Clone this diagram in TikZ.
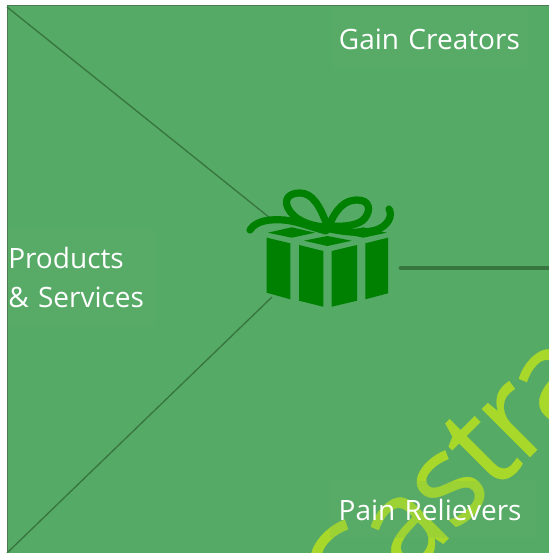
\documentclass[tikz,border=0pt]{standalone}
\usepackage{fontspec}
\setmainfont{Open Sans}
\newfontfamily\markfont[FakeBold=0.3,LetterSpace=-3]{Open Sans}
\usetikzlibrary{arrows,backgrounds}
\definecolor{canvasgreen}{HTML}{55AA66}
\definecolor{edgegreen}{HTML}{38763F}
\definecolor{giftgreen}{HTML}{008000}
\definecolor{markyellow}{HTML}{A8D82A}
\tikzset{
  spoke/.style={draw=edgegreen,line width=1pt},
  giftpart/.style={fill=giftgreen,draw=none},
  ribbon/.style={draw=giftgreen,line width=5.4pt,line cap=round},
  labelbox/.style={fill=canvasgreen!92!white,fill opacity=0.15,text opacity=1,text=white,inner sep=0pt,font=\fontsize{21}{29}\selectfont,align=left},
}
\begin{document}
\begin{tikzpicture}[x=0.75pt,y=0.75pt,yscale=-1,xscale=1]
\useasboundingbox (0,0) rectangle (549,553);

%Shape: Canvas
\fill[white] (0,0) rectangle (549,553);
\fill[canvasgreen] (7,5) rectangle (549,553);
\draw[edgegreen!70!gray,line width=0.75pt] (7,553) -- (7,5) -- (549,5);

%Watermark
\begin{scope}
\clip (7,5) rectangle (549,553);
\node (watermark) at (353,636) [anchor=south west,rotate=45,inner sep=0pt,text=markyellow,font=\markfont\fontsize{95}{95}\selectfont] {Castra};
\end{scope}

\coordinate (topleft) at (7,7);
\coordinate (botleft) at (7,553);
\coordinate (giftnw) at (270,218);
\coordinate (giftsw) at (272,297);
\coordinate (giftright) at (401,268);
\coordinate (rightend) at (549,268);

%Straight Lines
\draw[spoke] (topleft) -- (giftnw);
\draw[spoke] (botleft) -- (giftsw);
\draw[edgegreen,line width=3.6pt,line cap=round] (giftright) -- (rightend);

%Shape: Gift box
\fill[giftpart] (266.7,237.7) -- (290.3,243.3) -- (290.3,299.3) -- (266.7,292.7) -- cycle;
\fill[giftpart] (299,245) -- (323.3,251) -- (323.3,306.7) -- (299,300.7) -- cycle;
\fill[giftpart] (331.7,251) -- (357,245) -- (357,300.7) -- (331.7,306.7) -- cycle;
\fill[giftpart] (365.3,243.3) -- (388,237.7) -- (388,293.3) -- (365.3,299.3) -- cycle;
%Shape: Lid
\fill[giftpart] (304,240.7) -- (327.3,236) -- (351.7,240.7) -- (327.3,246) -- cycle;
\fill[giftpart] (268,232.7) -- (291.7,227.3) -- (315,232.7) -- (291.7,237.7) -- cycle;
\fill[giftpart] (340,232.7) -- (363.3,227.3) -- (386.7,232.7) -- (363.3,237.7) -- cycle;
%Shape: Ribbon
\draw[ribbon] (328,228) .. controls (320,205) and (312,193) .. (300,193) .. controls (288,193) and (284,200) .. (288,208) .. controls (293,218) and (305,225) .. (324,227);
\draw[ribbon] (328,228) .. controls (336,208) and (345,200) .. (357,200) .. controls (370,200) and (371,210) .. (365,218) .. controls (360,225) and (345,227) .. (332,226);
\draw[ribbon] (250,230) .. controls (256,220) and (272,219) .. (284,220) .. controls (296,221) and (308,226) .. (326,231);
\draw[ribbon] (389,209) .. controls (393,216) and (388,226) .. (376,230) .. controls (362,234) and (345,232) .. (330,229);

% Text Node
\node (gain) at (332,9) [labelbox,anchor=north west,minimum width=195pt*0.75,minimum height=60pt*0.75,text width=195pt*0.75] {\hspace*{5pt}Gain Creators};
% Text Node
\node (products) at (8,228) [labelbox,anchor=north west,minimum width=147pt*0.75,minimum height=98pt*0.75,text width=147pt*0.75] {Products\\\& Services};
% Text Node
\node (pain) at (330,481) [labelbox,anchor=north west,minimum width=205pt*0.75,minimum height=57pt*0.75,text width=205pt*0.75] {\hspace*{6.3pt}Pain Relievers};

\end{tikzpicture}
\end{document}
